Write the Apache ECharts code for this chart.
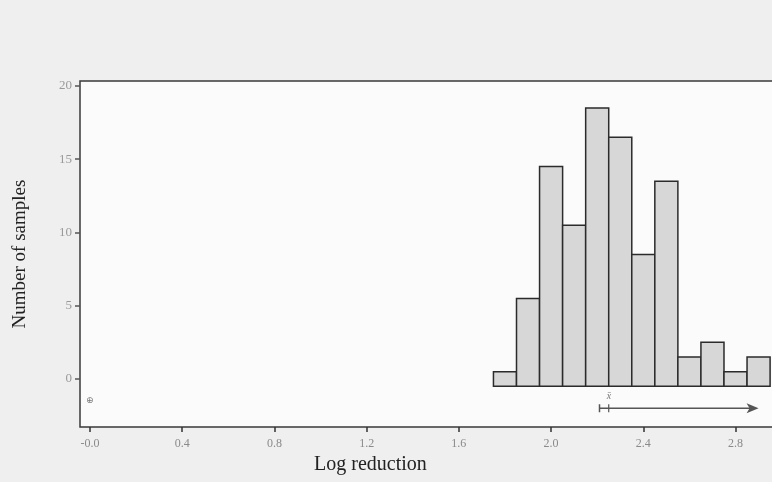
<!DOCTYPE html>
<html>
<head>
<meta charset="utf-8">
<title>Log reduction histogram</title>
<script src="https://cdn.jsdelivr.net/npm/echarts@6/dist/echarts.min.js"></script>
<style>
  html, body { margin: 0; padding: 0; background: #efefef; }
  #chart { width: 772px; height: 482px; }
</style>
</head>
<body>
<div id="chart"></div>
<script>
  // histogram bins (log reduction), width 0.1
  const binStarts = [1.75, 1.85, 1.95, 2.05, 2.15, 2.25, 2.35, 2.45, 2.55, 2.65, 2.75, 2.85];
  const binEnds = [1.85, 1.95, 2.05, 2.15, 2.25, 2.35, 2.45, 2.55, 2.65, 2.75, 2.85, 2.95];
  const counts = [1, 6, 15, 11, 19, 17, 9, 14, 2, 3, 1, 2];
  const binBase = -0.5; // bars sit a bit under the 0 tick in the original

  const xTicks = [0, 0.4, 0.8, 1.2, 1.6, 2.0, 2.4, 2.8];
  const yTicks = [0, 5, 10, 15, 20];

  // mean marker with one-sided arrow: [bar start, x-bar, arrow end], y level
  const meanArrow = [2.21, 2.25, 2.9];
  const arrowY = -2;

  const chart = echarts.init(document.getElementById('chart'));

  const barData = binStarts.map(function (s, i) {
    return [s, binEnds[i], counts[i]];
  });

  const option = {
    backgroundColor: '#efefef',
    animation: false,
    grid: {
      left: 80,
      right: -20,
      top: 81,
      bottom: 55,
      show: true,
      backgroundColor: '#fbfbfb',
      borderColor: '#3a3a3a',
      borderWidth: 1.5,
      outerBoundsMode: 'none'
    },
    xAxis: {
      type: 'value',
      min: -0.0434,
      max: 3.045,
      splitLine: { show: false },
      axisLine: { show: false, onZero: false },
      axisTick: {
        customValues: xTicks,
        length: 5,
        lineStyle: { color: '#333', width: 1.5 }
      },
      axisLabel: {
        customValues: xTicks,
        margin: 11,
        color: '#8a8a8a',
        fontFamily: 'Liberation Serif',
        fontSize: 12,
        formatter: function (v) {
          return v === 0 ? '-0.0' : v.toFixed(1);
        }
      }
    },
    yAxis: {
      type: 'value',
      min: -3.28,
      max: 20.34,
      splitLine: { show: false },
      axisLine: { show: false, onZero: false },
      name: 'Number of samples',
      nameLocation: 'middle',
      nameRotate: 90,
      nameGap: 50,
      nameTextStyle: {
        color: '#222',
        fontFamily: 'Liberation Serif',
        fontSize: 19
      },
      axisTick: {
        customValues: yTicks,
        length: 5,
        lineStyle: { color: '#555', width: 1.5 }
      },
      axisLabel: {
        customValues: yTicks,
        margin: 8,
        color: '#999',
        fontFamily: 'Liberation Serif',
        fontSize: 13
      }
    },
    graphic: [{
      type: 'text',
      left: 314,
      top: 455,
      style: {
        text: 'Log reduction',
        fill: '#222',
        font: '20px "Liberation Serif"'
      }
    }],
    series: [{
      type: 'custom',
      name: 'samples',
      data: barData,
      encode: { x: [0, 1], y: 2 },
      renderItem: function (params, api) {
        const p0 = api.coord([api.value(0), binBase]);
        const p1 = api.coord([api.value(1), binBase + api.value(2)]);
        return {
          type: 'rect',
          shape: { x: p0[0], y: p1[1], width: p1[0] - p0[0], height: p0[1] - p1[1] },
          style: { fill: '#d7d7d7', stroke: '#2b2b2b', lineWidth: 1.5 }
        };
      }
    }, {
      type: 'custom',
      name: 'mean',
      data: [meanArrow],
      renderItem: function (params, api) {
        const a = api.coord([api.value(0), arrowY]);
        const m = api.coord([api.value(1), arrowY]);
        const e = api.coord([api.value(2), arrowY]);
        const c = '#555';
        return {
          type: 'group',
          children: [
            { type: 'line', shape: { x1: a[0], y1: a[1], x2: e[0] - 4, y2: e[1] },
              style: { stroke: c, lineWidth: 1.5 } },
            { type: 'line', shape: { x1: a[0], y1: a[1] - 4, x2: a[0], y2: a[1] + 4 },
              style: { stroke: c, lineWidth: 1.5 } },
            { type: 'line', shape: { x1: m[0], y1: m[1] - 4, x2: m[0], y2: m[1] + 4 },
              style: { stroke: c, lineWidth: 1.2 } },
            { type: 'polygon', shape: { points: [[e[0], e[1]], [e[0] - 12, e[1] - 5], [e[0] - 9, e[1]], [e[0] - 12, e[1] + 5]] },
              style: { fill: c } },
            { type: 'text', x: m[0] - 2, y: m[1] - 17,
              style: { text: 'x\u0304', fill: '#777', font: 'italic 10px "Liberation Serif"' } }
          ]
        };
      }
    }, {
      type: 'custom',
      name: 'origin mark',
      data: [[0, -1.6]],
      renderItem: function (params, api) {
        const p = api.coord([api.value(0), api.value(1)]);
        return {
          type: 'text', x: p[0] - 4, y: p[1] - 6,
          style: { text: '\u2295', fill: '#777', font: '9px "DejaVu Sans"' }
        };
      }
    }]
  };

  chart.setOption(option);
</script>
</body>
</html>
